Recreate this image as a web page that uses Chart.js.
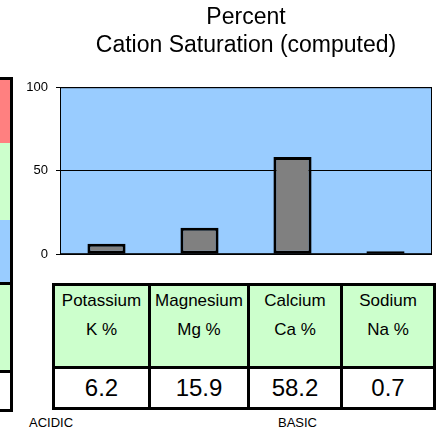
<!DOCTYPE html>
<html>
<head>
<meta charset="utf-8">
<script src="https://cdn.jsdelivr.net/npm/chart.js@4.4.1/dist/chart.umd.min.js"></script>
<style>
  html, body { margin: 0; padding: 0; background: #fff; }
  body { width: 439px; height: 433px; position: relative; overflow: hidden;
         font-family: "Liberation Sans", Arial, sans-serif; color: #000; }
  #chart { position: absolute; left: 0; top: 0; }
  .side { position: absolute; left: -4px; width: 11px; border: 3px solid #000; }
  #side1 { top: 77px; height: 202px; }
  #side1 div, #side2 div { width: 100%; }
  #side2 { top: 282px; height: 124px; }
  #cations { position: absolute; left: 52px; top: 283px; border-collapse: collapse;
             border: 3px solid #000; table-layout: fixed; }
  #cations td { border: 3px solid #000; text-align: center; padding: 0; }
  #cations tr.head td { background: #CCFFCC; height: 80px; vertical-align: top;
                        font-size: 17px; line-height: 29px; }
  #cations tr.vals td { background: #fff; height: 38px; font-size: 24px;
                        font-family: "Liberation Sans Narrow", "Arial Narrow", "Liberation Sans", Arial, sans-serif; }
  .note { position: absolute; top: 415px; font-size: 13px; }
</style>
</head>
<body>
<div id="side1" class="side">
  <div style="height:63px;background:#FF8080"></div>
  <div style="height:77px;background:#CCFFCC"></div>
  <div style="height:62px;background:#99CCFF"></div>
</div>
<div id="side2" class="side">
  <div style="height:85px;background:#CCFFCC;border-bottom:3px solid #000"></div>
  <div style="height:36px;background:#fff"></div>
</div>
<canvas id="chart" width="439" height="270"></canvas>
<table id="cations">
  <colgroup id="cols"></colgroup>
  <tr class="head" id="headRow"></tr>
  <tr class="vals" id="valRow"></tr>
</table>
<div class="note" style="left:29px">ACIDIC</div>
<div class="note" style="left:278px">BASIC</div>

<script>
const cationNames = ['Potassium', 'Magnesium', 'Calcium', 'Sodium']
const cationSymbols = ['K %', 'Mg %', 'Ca %', 'Na %']
const saturation = [6.2, 15.9, 58.2, 0.7]
const yTicks = [0, 50, 100]
const colWidths = [96, 99, 93, 93]

// table under the chart
const cols = document.getElementById('cols')
const headRow = document.getElementById('headRow')
const valRow = document.getElementById('valRow')
cationNames.forEach((name, i) => {
  const col = document.createElement('col')
  col.style.width = colWidths[i] + 'px'
  cols.appendChild(col)
  const h = document.createElement('td')
  h.innerHTML = name + '<br>' + cationSymbols[i]
  headRow.appendChild(h)
  const v = document.createElement('td')
  v.textContent = saturation[i].toFixed(1)
  valRow.appendChild(v)
})

// blue plot area with a black frame
const plotFrame = {
  id: 'plotFrame',
  beforeDraw(chart) {
    const { ctx, chartArea: a } = chart
    ctx.save()
    ctx.fillStyle = '#99CCFF'
    ctx.fillRect(a.left, a.top, a.right - a.left, a.bottom - a.top)
    ctx.restore()
  },
  beforeDatasetsDraw(chart) {
    const { ctx, chartArea: a } = chart
    ctx.save()
    ctx.strokeStyle = '#000'
    ctx.lineWidth = 1
    ctx.strokeRect(a.left + 0.5, a.top + 0.5, a.right - a.left - 1, a.bottom - a.top - 1)
    ctx.restore()
  }
}

const ctx = document.getElementById('chart').getContext('2d')
new Chart(ctx, {
  type: 'bar',
  data: {
    labels: cationNames,
    datasets: [{
      data: saturation,
      backgroundColor: '#808080',
      borderColor: '#000',
      borderWidth: 3,
      borderSkipped: false,
      minBarLength: 3,
      barPercentage: 0.41,
      categoryPercentage: 1
    }]
  },
  options: {
    responsive: false,
    animation: false,
    layout: { padding: { left: 0, right: 7, top: 0, bottom: 15 } },
    plugins: {
      legend: { display: false },
      tooltip: { enabled: false },
      title: {
        display: true,
        fullSize: false,
        text: ['Percent', 'Cation Saturation (computed)'],
        color: '#000',
        font: { family: '"Liberation Sans", Arial, sans-serif', size: 23, weight: 'normal', lineHeight: 1.2 },
        padding: { top: 4, bottom: 28 }
      }
    },
    scales: {
      x: { display: false },
      y: {
        min: 0,
        max: 100,
        afterFit(scale) { scale.width = 60 },
        afterBuildTicks(scale) { scale.ticks = yTicks.map(v => ({ value: v })) },
        grid: { color: '#000', lineWidth: 1, tickLength: 4, drawTicks: true, tickColor: '#000' },
        border: { display: true, color: '#000', width: 1 },
        ticks: {
          color: '#000',
          padding: 8,
          font: { family: '"Liberation Sans", Arial, sans-serif', size: 13 }
        }
      }
    }
  },
  plugins: [plotFrame]
})
</script>
</body>
</html>
